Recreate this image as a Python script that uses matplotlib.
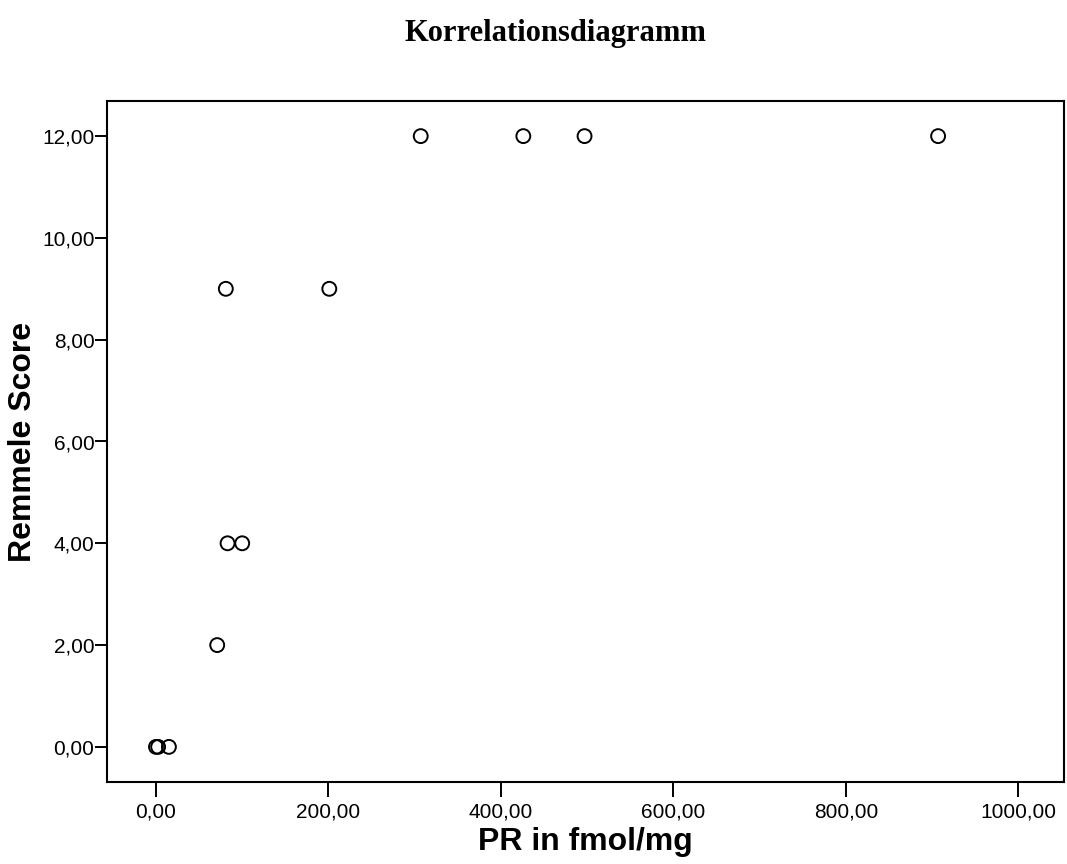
import matplotlib.pyplot as plt
from matplotlib.ticker import FuncFormatter

# PR values (fmol/mg) and Remmele score
pr = [0.0, 2.5, 15, 71, 83, 100, 81, 201, 307, 426, 497, 907]
score = [0, 0, 0, 2, 4, 4, 9, 9, 12, 12, 12, 12]

xticks = [0, 200, 400, 600, 800, 1000]
yticks = [0, 2, 4, 6, 8, 10, 12]

plt.rcParams['font.family'] = 'Liberation Sans'

fig = plt.figure(figsize=(10.67, 8.64), dpi=100)
ax = fig.add_axes([107 / 1067, 1 - 782 / 864, (1064 - 107) / 1067, (782 - 101) / 864])

ax.scatter(pr, score, s=100, facecolors='none', edgecolors='black', linewidths=1.4, zorder=3)

ax.set_xlim(-56.8, 1053)
ax.set_ylim(-0.69, 12.69)
ax.set_xticks(xticks)
ax.set_yticks(yticks)

comma = FuncFormatter(lambda v, p: f'{v:.2f}'.replace('.', ','))
ax.xaxis.set_major_formatter(comma)
ax.yaxis.set_major_formatter(comma)
ax.tick_params(axis='x', direction='out', length=11, width=1.4, labelsize=15, pad=4)
ax.tick_params(axis='y', direction='out', length=9, width=1.4, labelsize=15, pad=0)
for sp in ax.spines.values():
    sp.set_linewidth(1.5)

ax.set_xlabel('PR in fmol/mg', fontsize=23, fontweight='bold', labelpad=4)
ax.set_ylabel('Remmele Score', fontsize=23, fontweight='bold', labelpad=3)

fig.text(555 / 1067, 1 - 33 / 864, 'Korrelationsdiagramm', ha='center', va='center',
         fontsize=22, fontweight='bold', family='Liberation Serif')

fig.savefig('out.png', dpi=100)
